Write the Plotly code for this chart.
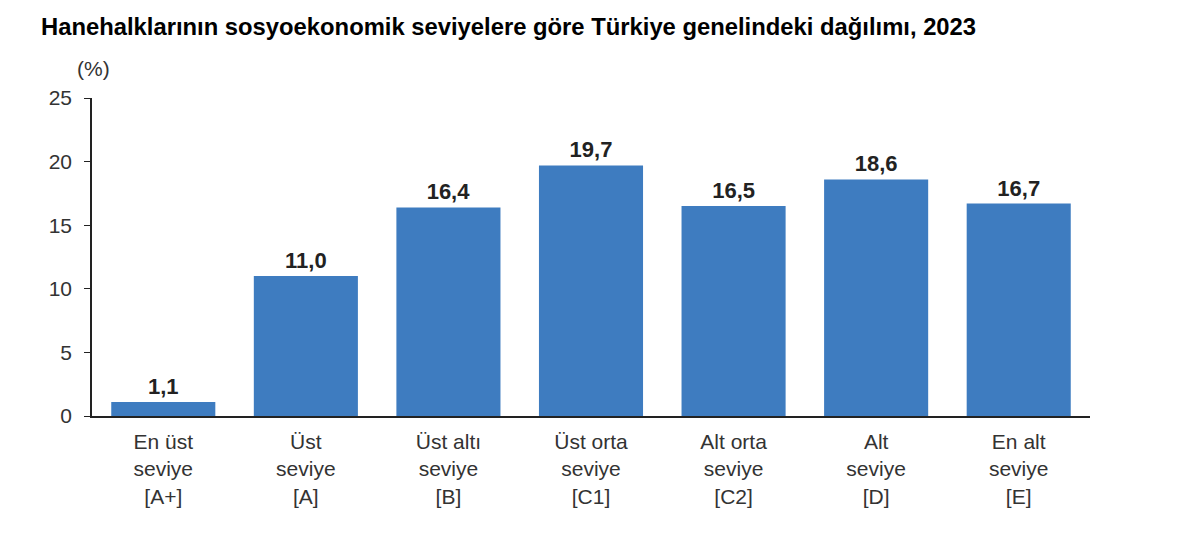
import plotly.graph_objects as go

categories = ["En üst<br>seviye<br>[A+]", "Üst<br>seviye<br>[A]", "Üst altı<br>seviye<br>[B]",
              "Üst orta<br>seviye<br>[C1]", "Alt orta<br>seviye<br>[C2]", "Alt<br>seviye<br>[D]",
              "En alt<br>seviye<br>[E]"]
values = [1.1, 11.0, 16.4, 19.7, 16.5, 18.6, 16.7]
value_labels = [f"{v:.1f}".replace(".", ",") for v in values]
y_ticks = [0, 5, 10, 15, 20, 25]

fig = go.Figure(go.Bar(x=categories, y=values,
                       text=value_labels,
                       textposition="outside",
                       cliponaxis=False,
                       textfont=dict(family="Arial", size=22, color="#222222"),
                       texttemplate="<b>%{text}</b>",
                       marker=dict(color="#3E7CC0", line=dict(width=0))))

fig.update_layout(width=1200, height=550,
                  paper_bgcolor="white", plot_bgcolor="white",
                  margin=dict(l=84, r=118, t=90, b=142),
                  bargap=0.27,
                  showlegend=False,
                  font=dict(family="Arial", size=21, color="#333333"))

fig.update_xaxes(showline=True, linecolor="#222222", linewidth=1.5,
                 ticks="", showgrid=False, ticklabelstandoff=6,
                 tickfont=dict(family="Arial", size=21, color="#333333"))
fig.update_yaxes(range=[0, 25], tickvals=y_ticks, showgrid=False,
                 showline=True, linecolor="#222222", linewidth=1.5,
                 ticks="outside", ticklen=6, tickcolor="#222222",
                 ticklabelstandoff=8,
                 tickfont=dict(family="Arial", size=21, color="#333333"),
                 zeroline=False)

# title and unit
fig.add_annotation(text="<b>Hanehalklarının sosyoekonomik seviyelere göre Türkiye genelindeki dağılımı, 2023</b>",
                   xref="paper", yref="paper", x=-53/998, y=1 + 71/318,
                   xanchor="left", yanchor="middle", showarrow=False,
                   font=dict(family="Arial", size=23.8, color="#000000"))
fig.add_annotation(text="(%)", xref="paper", yref="paper", x=1/998, y=1 + 30/318,
                   xanchor="center", yanchor="middle", showarrow=False,
                   font=dict(family="Arial", size=21, color="#333333"))

fig.write_html("out.html")
